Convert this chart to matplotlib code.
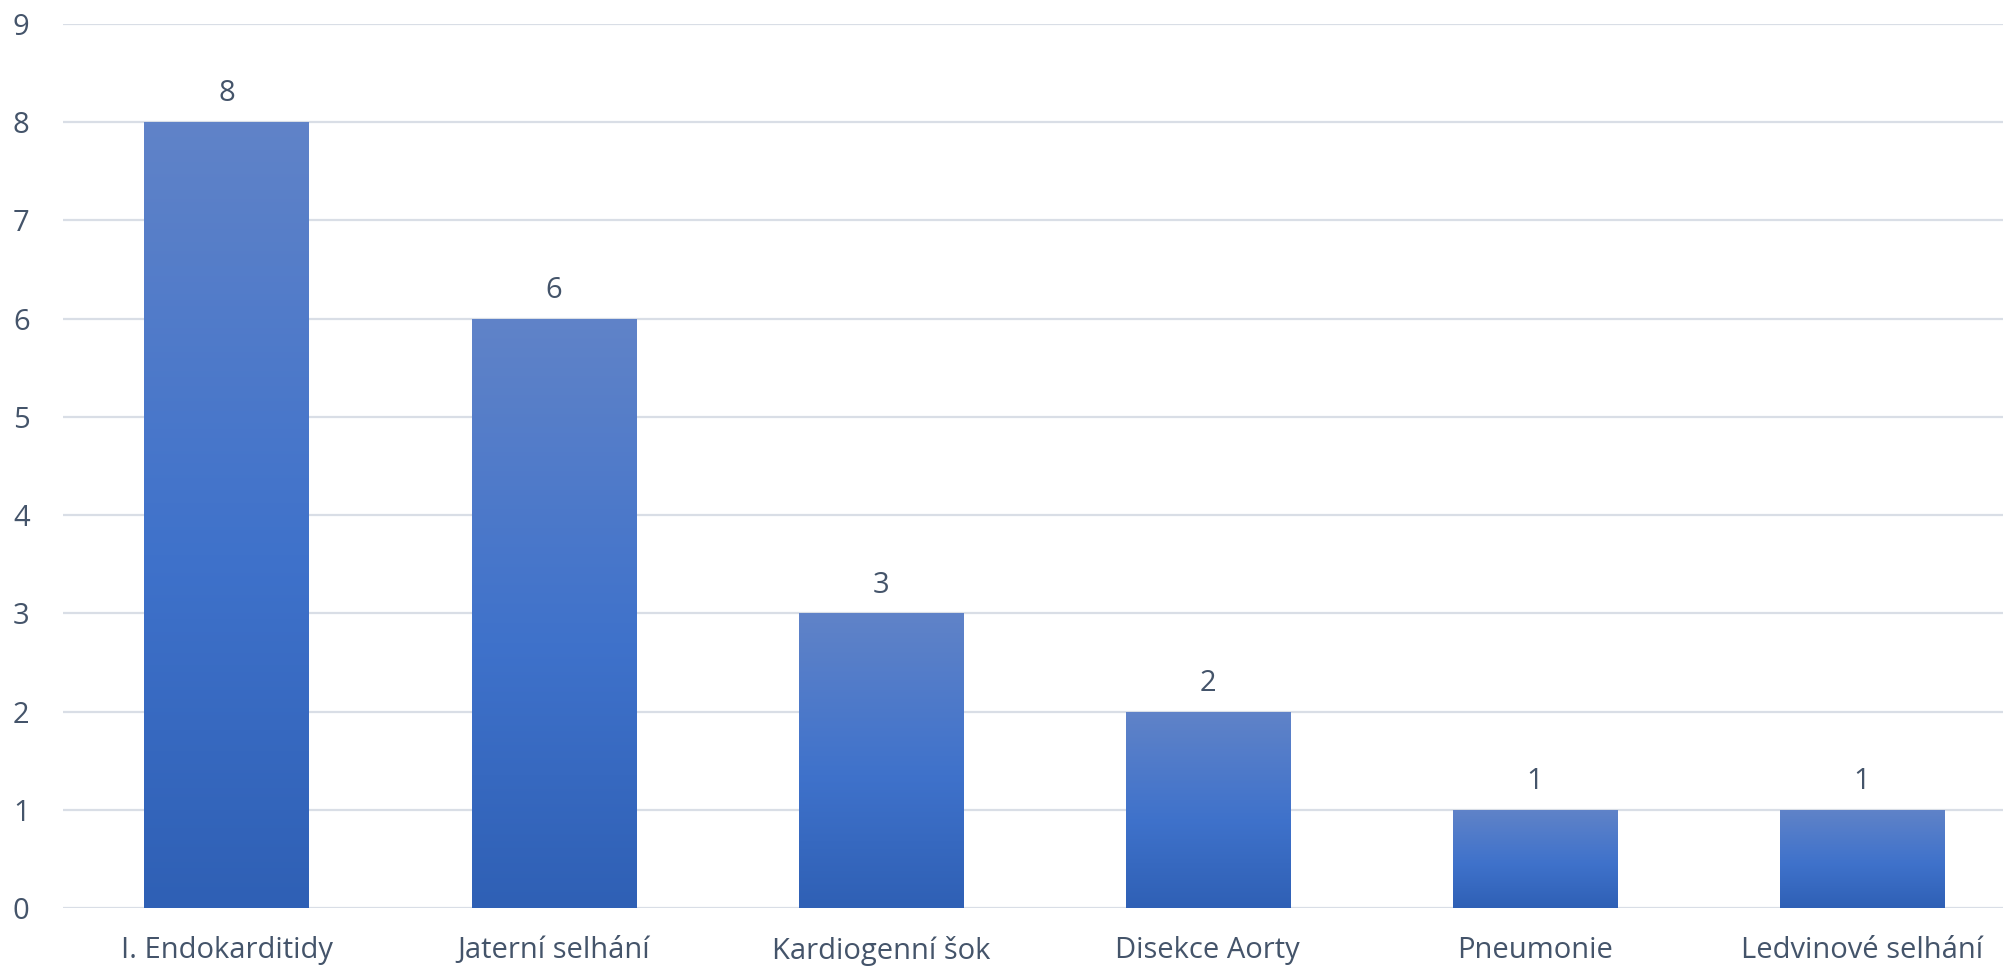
import matplotlib
matplotlib.use("Agg")
import matplotlib.pyplot as plt
import numpy as np
from matplotlib.colors import LinearSegmentedColormap

categories = ["I. Endokarditidy", "Jaterní selhání", "Kardiogenní šok",
              "Disekce Aorty", "Pneumonie", "Ledvinové selhání"]
values = [8, 6, 3, 2, 1, 1]
yticks = list(range(0, 10))

plt.rcParams['font.family'] = ['Open Sans', 'DejaVu Sans']
text_color = "#44546A"
grid_color = "#D9DEE6"
fs = 21

W, H = 2003, 967
fig = plt.figure(figsize=(W / 100, H / 100), dpi=100)
ax = fig.add_axes([63 / W, 1 - 908 / H, (W - 63) / W, (908 - 24) / H])

cmap = LinearSegmentedColormap.from_list(
    "g", [(0.0, "#2F60B5"), (0.45, "#3F72CB"), (1.0, "#6083C8")])

x = np.arange(len(categories))
bars = ax.bar(x, values, width=0.502, color="none", edgecolor="none", zorder=3)
grad = np.linspace(0, 1, 256).reshape(-1, 1)
for b in bars:
    x0, y0 = b.get_x(), b.get_y()
    w, h = b.get_width(), b.get_height()
    im = ax.imshow(grad, extent=[x0, x0 + w, y0, y0 + h], origin="lower",
                   aspect="auto", cmap=cmap, zorder=3)
    im.set_clip_path(b)
    ax.text(x0 + w / 2, y0 + h + 0.14, str(int(h)), ha="center", va="bottom",
            fontsize=fs, color=text_color)

ax.set_xlim(-0.5, -0.5 + (W - 63) / 327.1)
ax.set_ylim(0, 9)
ax.set_yticks(yticks)
ax.set_xticks(x)
ax.set_xticklabels(categories)
ax.yaxis.grid(True, color=grid_color, linewidth=1.6, zorder=0)
ax.set_axisbelow(True)
for s in ax.spines.values():
    s.set_visible(False)
ax.tick_params(axis="both", length=0, labelsize=fs, labelcolor=text_color)
ax.tick_params(axis="y", pad=30)
ax.tick_params(axis="x", pad=20)
for lab in ax.get_yticklabels():
    lab.set_horizontalalignment("center")

fig.savefig("out.png", dpi=100, facecolor="white")
